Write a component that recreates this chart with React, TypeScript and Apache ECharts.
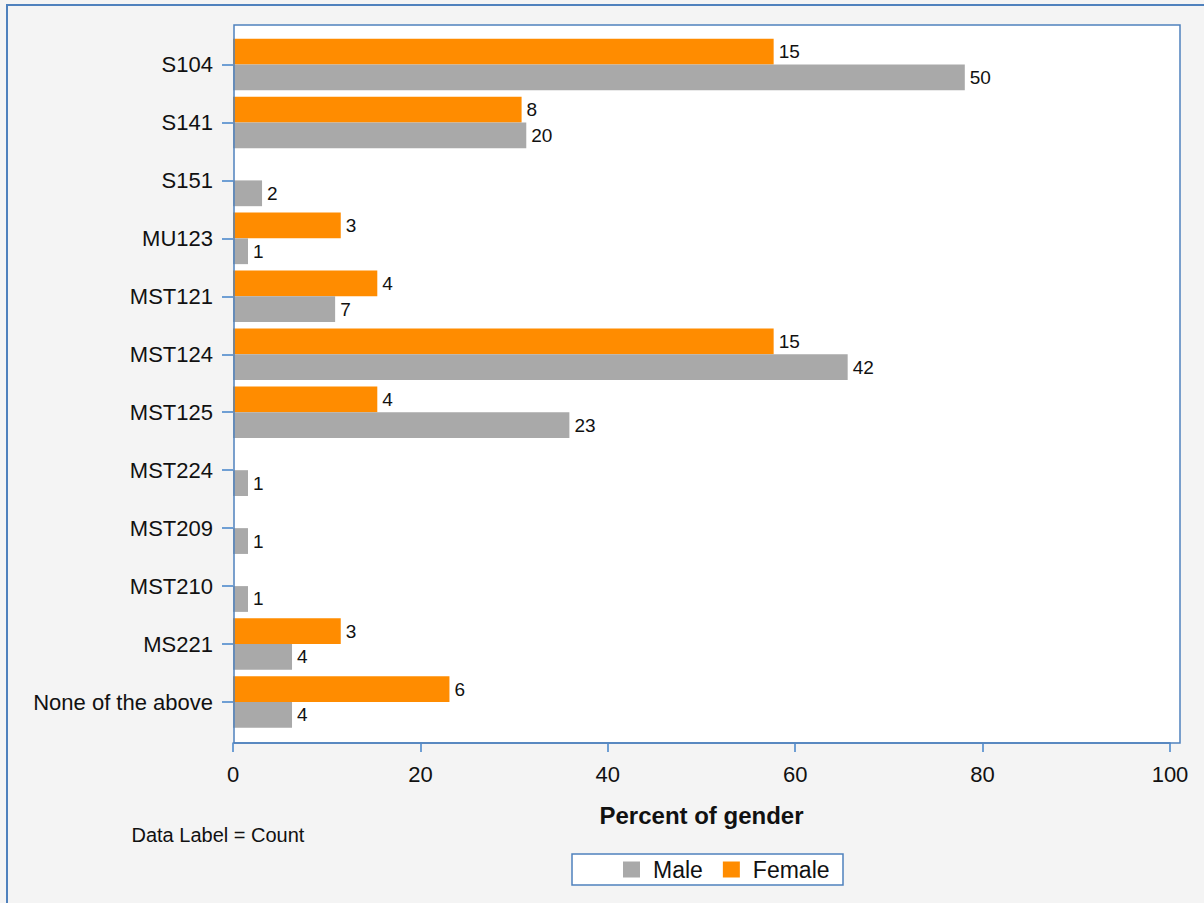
import React, { useEffect, useRef } from "react";
import * as echarts from "echarts";

const categories = ["S104", "S141", "S151", "MU123", "MST121", "MST124", "MST125", "MST224", "MST209", "MST210", "MS221", "None of the above"];
const malePct = [78.1, 31.3, 3.1, 1.6, 10.9, 65.6, 35.9, 1.6, 1.6, 1.6, 6.3, 6.3];
const femalePct = [57.7, 30.8, null, 11.5, 15.4, 57.7, 15.4, null, null, null, 11.5, 23.1];
const maleCount = [50, 20, 2, 1, 7, 42, 23, 1, 1, 1, 4, 4];
const femaleCount = [15, 8, null, 3, 4, 15, 4, null, null, null, 3, 6];
const xTicks = [0, 20, 40, 60, 80, 100];

const FONT = "'Liberation Sans', Arial, sans-serif";
const BLUE = "#4f81bd";
const TICK = "#6f9fd4";

export default function App() {
  const ref = useRef<HTMLDivElement>(null);
  useEffect(() => {
    if (!ref.current) return;
    const chart = echarts.init(ref.current, undefined, { renderer: "svg" });
    const labelStyle = (counts: (number | null)[]) => ({
      show: true,
      position: "right",
      distance: 5,
      color: "#111",
      fontSize: 19,
      fontFamily: FONT,
      formatter: (p: any) => (counts[p.dataIndex] == null ? "" : String(counts[p.dataIndex])),
    });
    chart.setOption({
      animation: false,
      backgroundColor: "#f4f4f4",
      textStyle: { fontFamily: FONT },
      grid: { left: 233, right: 34, top: 35.5, bottom: 172, containLabel: false },
      xAxis: {
        type: "value",
        min: xTicks[0],
        max: xTicks[xTicks.length - 1],
        interval: 20,
        offset: 12,
        axisLine: { show: true, lineStyle: { color: BLUE, width: 1.5 } },
        axisTick: { show: true, length: 9, lineStyle: { color: TICK, width: 2 } },
        axisLabel: { margin: 20, fontSize: 22, color: "#111", fontFamily: FONT },
        splitLine: { show: false },
        name: "Percent of gender",
        nameLocation: "middle",
        nameGap: 60,
        nameTextStyle: { fontSize: 24, fontWeight: "bold", color: "#111", fontFamily: FONT },
      },
      yAxis: {
        type: "category",
        data: categories,
        inverse: true,
        axisLine: { show: false },
        axisTick: { show: true, alignWithLabel: true, length: 11, lineStyle: { color: TICK, width: 2 } },
        axisLabel: { margin: 20, fontSize: 22, color: "#111", fontFamily: FONT },
        splitLine: { show: false },
      },
      legend: {
        data: ["Male", "Female"],
        z: 200,
        left: 623,
        top: 858,
        padding: 0,
        itemWidth: 17,
        itemHeight: 16,
        itemGap: 20,
        icon: "rect",
        textStyle: { fontSize: 23, color: "#111", fontFamily: FONT, padding: [0, 0, 0, 8] },
      },
      graphic: [
        {
          type: "rect",
          z: -10,
          shape: { x: 7, y: 5, width: 1400, height: 1200 },
          style: { fill: "none", stroke: BLUE, lineWidth: 2 },
        },
        {
          type: "rect",
          z: -5,
          shape: { x: 234, y: 25, width: 946, height: 718 },
          style: { fill: "#ffffff", stroke: "none" },
        },
        {
          type: "rect",
          z: 100,
          shape: { x: 234, y: 25, width: 946, height: 718 },
          style: { fill: "none", stroke: BLUE, lineWidth: 1.5 },
        },
        {
          type: "rect",
          z: -5,
          shape: { x: 572, y: 854, width: 271, height: 31 },
          style: { fill: "#ffffff", stroke: BLUE, lineWidth: 1.5 },
        },
        {
          type: "text",
          z: 60,
          x: 131.5,
          y: 834.5,
          style: { text: "Data Label = Count", fontSize: 20, fontFamily: FONT, fill: "#111", verticalAlign: "middle" },
        },
      ],
      series: [
        {
          name: "Female",
          type: "bar",
          data: femalePct,
          barGap: "0%",
          barCategoryGap: "11%",
          itemStyle: { color: "#ff8c00" },
          label: labelStyle(femaleCount),
        },
        {
          name: "Male",
          type: "bar",
          data: malePct,
          barGap: "0%",
          barCategoryGap: "11%",
          itemStyle: { color: "#a9a9a9" },
          label: labelStyle(maleCount),
        },
      ],
    });
    return () => chart.dispose();
  }, []);
  return <div ref={ref} style={{ position: "absolute", left: 0, top: 0, width: 1204, height: 903 }} />;
}
